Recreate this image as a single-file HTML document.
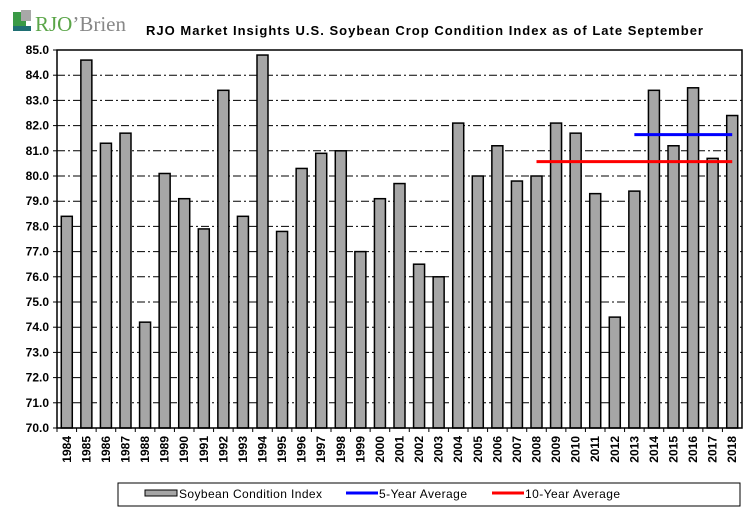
<!DOCTYPE html>
<html><head><meta charset="utf-8"><style>
body{margin:0;background:#fff;}
svg text{font-family:"Liberation Sans",Arial,sans-serif;}
</style></head><body>
<svg id="c" width="756" height="516" xmlns="http://www.w3.org/2000/svg">
<g>
<rect x="13" y="12" width="13" height="14" fill="#3a9a46"/>
<rect x="21" y="10" width="10" height="11" fill="#a8a8a8"/>
<polygon points="13,26 31,26 31,31 13,31" fill="#1f6f73"/>
<text x="35" y="31" font-size="21" fill="#5aa548" style="font-family:'Liberation Serif',serif">RJO<tspan fill="#888">’Brien</tspan></text>
</g>
<text x="146" y="35" font-size="13" font-weight="bold" textLength="557" lengthAdjust="spacing">RJO Market Insights U.S. Soybean Crop Condition Index as of Late September</text>
<g id="grid"></g><g id="bars"></g><g id="lines"></g><g id="axes"></g>
<g>
<rect x="118" y="483" width="622" height="23" fill="#fff" stroke="#000"/>
<g><rect x="145" y="490" width="32" height="6" fill="#a6a6a6" stroke="#000"/><text x="179" y="498" font-size="12" textLength="143">Soybean Condition Index</text></g>
<g><line x1="346" y1="493" x2="378" y2="493" stroke="#0000ff" stroke-width="3"/><text x="379" y="498" font-size="12" textLength="88">5-Year Average</text></g>
<g><line x1="492" y1="493" x2="524" y2="493" stroke="#ff0000" stroke-width="3"/><text x="525" y="498" font-size="12" textLength="95">10-Year Average</text></g>
</g>
</svg>
<script>
const years=[1984,1985,1986,1987,1988,1989,1990,1991,1992,1993,1994,1995,1996,1997,1998,1999,2000,2001,2002,2003,2004,2005,2006,2007,2008,2009,2010,2011,2012,2013,2014,2015,2016,2017,2018];
const values=[78.4,84.6,81.3,81.7,74.2,80.1,79.1,77.9,83.4,78.4,84.8,77.8,80.3,80.9,81.0,77.0,79.1,79.7,76.5,76.0,82.1,80.0,81.2,79.8,80.0,82.1,81.7,79.3,74.4,79.4,83.4,81.2,83.5,80.7,82.4];
const avg5=[81.64];
const avg5Range=[2013,2018];
const avg10=[80.57];
const avg10Range=[2008,2018];
const yTicks=[70,71,72,73,74,75,76,77,78,79,80,81,82,83,84,85];
const NS="http://www.w3.org/2000/svg";
const L=57,R=742,T=50,B=428,yMin=70,yMax=85;
const bw=(R-L)/years.length;
function y(v){return B-(v-yMin)/(yMax-yMin)*(B-T);}
function xc(yr){return L+(years.indexOf(yr)+0.5)*bw;}
function mk(t,a,p){const e=document.createElementNS(NS,t);for(const k in a)e.setAttribute(k,a[k]);p.appendChild(e);return e;}
const grid=document.getElementById('grid'),bars=document.getElementById('bars'),lines=document.getElementById('lines'),axes=document.getElementById('axes');
yTicks.forEach(v=>{
 if(v>yMin&&v<yMax){const g=mk('line',{x1:L,x2:R,y1:y(v),y2:y(v),stroke:'#000','stroke-dasharray':'8,3,2,3'},grid);
 
 }
 mk('line',{x1:L-4,x2:L,y1:y(v),y2:y(v),stroke:'#000'},axes);
 const t=mk('text',{x:L-8,y:y(v)+4,'font-size':12,'font-weight':'bold','text-anchor':'end'},axes);t.textContent=v.toFixed(1);
 
 
});
years.forEach((yr,i)=>{
 const cx=xc(yr);
 const r=mk('rect',{x:cx-5.5,y:y(values[i]),width:11,height:B-y(values[i]),fill:'#a6a6a6',stroke:'#000','stroke-width':1.5},bars);
 
 
 mk('line',{x1:L+i*bw,x2:L+i*bw,y1:B,y2:B+4,stroke:'#000'},axes);
 const t=mk('text',{x:0,y:0,'font-size':12,'font-weight':'bold','text-anchor':'end',transform:`translate(${cx+4},436) rotate(-90)`},axes);t.textContent=yr;
 
 
});
const l10=mk('line',{x1:xc(avg10Range[0]),x2:xc(avg10Range[1]),y1:y(avg10[0]),y2:y(avg10[0]),stroke:'#ff0000','stroke-width':3},lines);


const l5=mk('line',{x1:xc(avg5Range[0]),x2:xc(avg5Range[1]),y1:y(avg5[0]),y2:y(avg5[0]),stroke:'#0000ff','stroke-width':3},lines);


const fr=mk('path',{d:`M${L},${T}H${R}V${B}H${L}Z`,fill:'none',stroke:'#000','stroke-width':1.5},axes);


</script>
</body></html>
